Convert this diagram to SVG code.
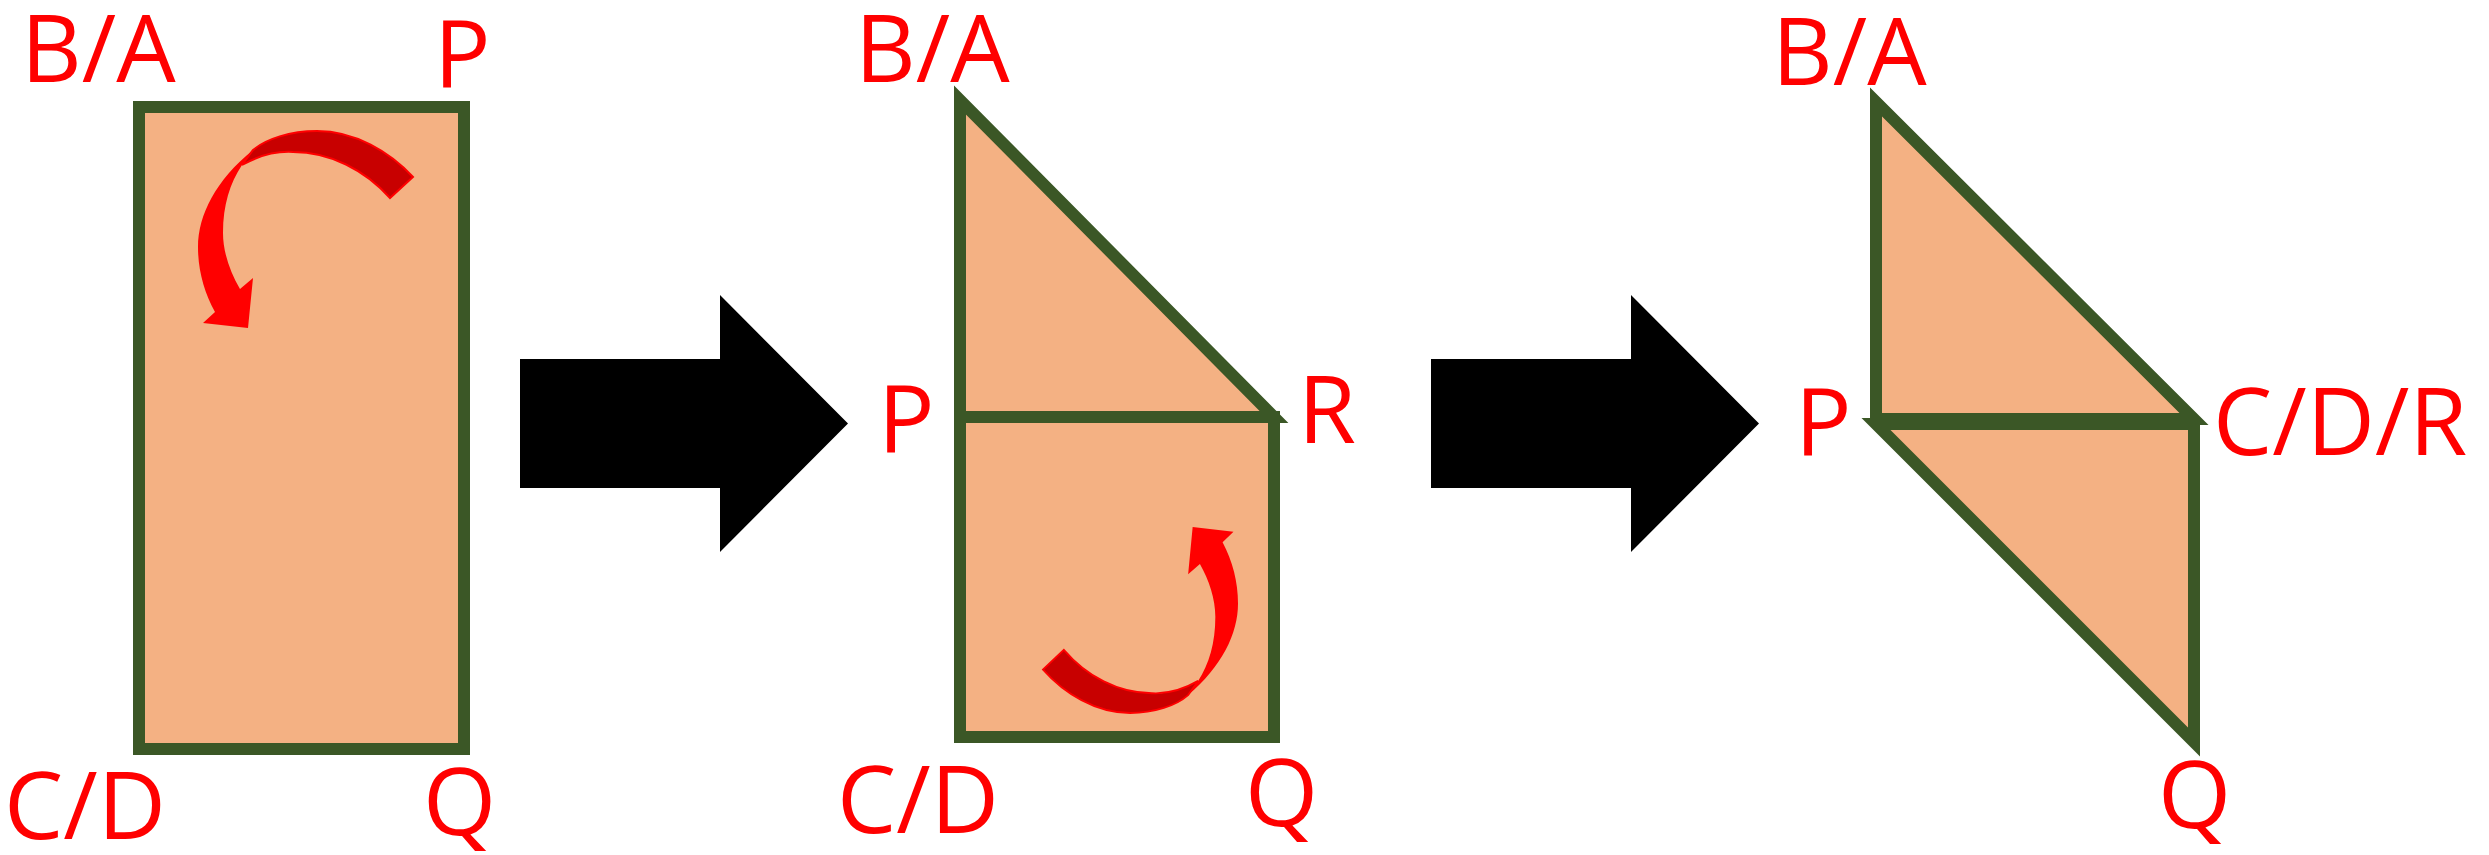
<svg xmlns="http://www.w3.org/2000/svg" width="2489" height="855" viewBox="0 0 2489 855">
<style>
.shape{fill:#F4B183;stroke:#3B5726;stroke-width:12;stroke-linejoin:miter;stroke-miterlimit:10}
.lbl{font-family:"Open Sans","Noto Sans","Liberation Sans",sans-serif;font-size:94px;fill:#FF0000}
.back{fill:#C80000;stroke:#FF0000;stroke-width:2}
.front{fill:#FF0000;stroke:none}
.big{fill:#000000}
</style>
<defs>
<g id="curl">
<path class="back" d="M413,177 C390,152 355,131 317,131 C290,131 266,139 253,150 L242,165 C258,156 275,151 293,152 C330,152 365,170 390,198 Z"/>
<path class="front" d="M253,150 C216,180 198,215 198,247 C198,270 204,292 215,312 L203,323 L248,328 L253,278 L240,289 C230,272 223,252 223,233 C223,205 230,183 242,165 Z"/>
</g>
</defs>
<rect width="2489" height="855" fill="#FFFFFF"/>

<g id="panel1">
<rect class="shape" x="139" y="107" width="325" height="642"/>
<use href="#curl"/>
<text class="lbl" x="21" y="82">B/A</text>
<text class="lbl" x="434" y="87">P</text>
<text class="lbl" x="4" y="839">C/D</text>
<text class="lbl" x="423" y="835">Q</text>
</g>

<g id="panel2">
<polygon class="shape" points="960,100 960,417 1274,417"/>
<rect class="shape" x="960" y="417" width="314" height="320"/>
<use href="#curl" transform="translate(1417.6,836.7) scale(-0.907,-0.944)"/>
<text class="lbl" x="855" y="82">B/A</text>
<text class="lbl" x="878" y="452">P</text>
<text class="lbl" x="1298" y="443">R</text>
<text class="lbl" x="837" y="833">C/D</text>
<text class="lbl" x="1245" y="826">Q</text>
</g>

<g id="panel3">
<polygon class="shape" points="1876,424 2194,424 2194,742"/>
<polygon class="shape" points="1876,102 1876,419 2194,419"/>
<text class="lbl" x="1772" y="85">B/A</text>
<text class="lbl" x="1795" y="455">P</text>
<text class="lbl" x="2213" y="455">C/D/R</text>
<text class="lbl" x="2158" y="828">Q</text>
</g>

<g id="connectors">
<polygon class="big" points="520,359 720,359 720,295 848,423.5 720,552 720,488 520,488"/>
<polygon class="big" points="1431,359 1631,359 1631,295 1759,423.5 1631,552 1631,488 1431,488"/>
</g>
</svg>
